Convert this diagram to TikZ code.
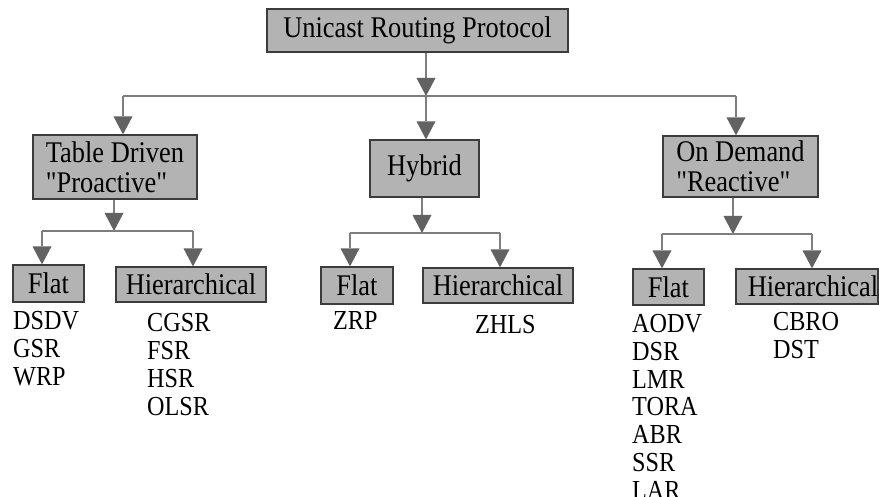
\documentclass[tikz,border=0pt]{standalone}
\usepackage{fontspec}
\setmainfont{Liberation Serif}[FakeStretch=0.88,Ligatures=TeXOff]
\usetikzlibrary{arrows.meta}
\definecolor{boxfill}{HTML}{B3B3B3}
\definecolor{boxline}{HTML}{3C3C3C}
\definecolor{linegray}{HTML}{7E7E7E}
\definecolor{headgray}{HTML}{626262}
\begin{document}
\begin{tikzpicture}[x=1pt,y=-1pt,
  box/.style={draw=boxline,fill=boxfill,line width=1.2pt,inner sep=0pt,
    font=\fontsize{30}{30}\selectfont,align=left},
  boxtext/.style={inner sep=0pt,font=\fontsize{30}{30}\selectfont},
  list/.style={anchor=north west,inner sep=0pt,align=left,
    font=\fontsize{27.5}{27.8}\selectfont},
  wire/.style={draw=linegray,line width=1.3pt},
  arr/.style={wire,-{Triangle[length=18pt,width=19pt,color=headgray,line width=0pt]}}]
\useasboundingbox (0,0) rectangle (879,497);

% root
\node[box,minimum width=301,minimum height=43] (root) at (417.5,30.5) {Unicast Routing Protocol};

% second level
\node[box,minimum width=164,minimum height=64] (td) at (115,167) {Table Driven\\"Proactive"};
\node[box,minimum width=109,minimum height=57] (hy) at (424.5,168.5) {Hybrid};
\node[box,minimum width=155,minimum height=61] (od) at (740.5,166.5) {On Demand\\"Reactive"};

% third level
\node[box,minimum width=71,minimum height=37] (f1) at (48.5,283.5) {Flat};
\node[box,minimum width=150,minimum height=35] (h1) at (191,284.5) {Hierarchical};
\node[box,minimum width=72,minimum height=37] (f2) at (357,285.5) {Flat};
\node[box,minimum width=150,minimum height=35] (h2) at (498,285.5) {Hierarchical};
\node[box,minimum width=71,minimum height=36] (f3) at (668.5,287) {Flat};
\node[box,minimum width=142,minimum height=35,
  label={[boxtext,xshift=6pt]center:Hierarchical}] (h3) at (807,286.5) {};

% protocol lists
\node[list] (l1) at (13,311.5) {DSDV\\GSR\\WRP};
\node[list] (l2) at (147,313.5) {CGSR\\FSR\\HSR\\OLSR};
\node[list] (l3) at (333,311.5) {ZRP};
\node[list] (l4) at (475,315.5) {ZHLS};
\node[list] (l5) at (632,314) {AODV\\DSR\\LMR\\TORA\\ABR\\SSR\\LAR};
\node[list] (l6) at (773,312.5) {CBRO\\DST};

% junction points
\coordinate (j0) at (426,96);
\coordinate (j0l) at (123,96);
\coordinate (j0r) at (736,96);
\coordinate (j1) at (114,231);
\coordinate (j1l) at (42,231);
\coordinate (j1r) at (193,231);
\coordinate (j2) at (422,233);
\coordinate (j2l) at (350,233);
\coordinate (j2r) at (500,233);
\coordinate (j3) at (733,234);
\coordinate (j3l) at (662,234);
\coordinate (j3r) at (812,234);

% root to second level
\draw[arr] (j0 |- root.south) -- (j0);
\draw[wire] (j0l) -- (j0r);
\draw[arr] (j0l) -- (j0l |- td.north);
\draw[arr] (j0) -- (j0 |- hy.north);
\draw[arr] (j0r) -- (j0r |- od.north);

% table driven
\draw[arr] (j1 |- td.south) -- (j1);
\draw[wire] (j1l) -- (j1r);
\draw[arr] (j1l) -- (j1l |- f1.north);
\draw[arr] (j1r) -- (j1r |- h1.north);

% hybrid
\draw[arr] (j2 |- hy.south) -- (j2);
\draw[wire] (j2l) -- (j2r);
\draw[arr] (j2l) -- (j2l |- f2.north);
\draw[arr] (j2r) -- (j2r |- h2.north);

% on demand
\draw[arr] (j3 |- od.south) -- (j3);
\draw[wire] (j3l) -- (j3r);
\draw[arr] (j3l) -- (j3l |- f3.north);
\draw[arr] (j3r) -- (j3r |- h3.north);
\end{tikzpicture}
\end{document}
